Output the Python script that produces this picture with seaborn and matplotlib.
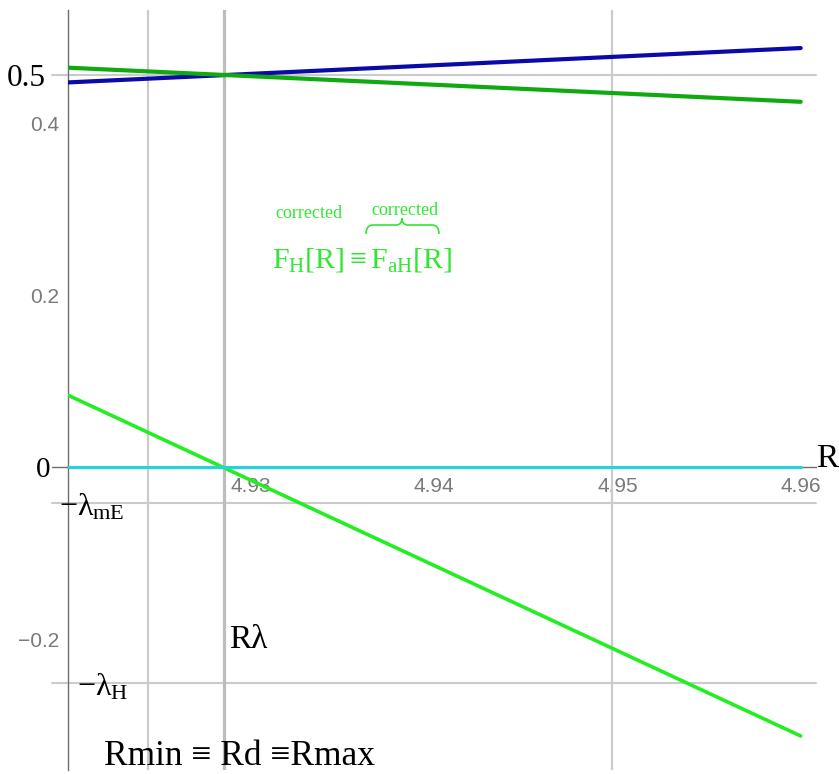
import matplotlib
matplotlib.use("Agg")
import matplotlib.pyplot as plt
import seaborn as sns
import pandas as pd
from matplotlib.path import Path
from matplotlib.patches import PathPatch
from matplotlib.ticker import MultipleLocator

# ---- data -------------------------------------------------------------
R = [4.92, 4.96]
F_blue = [0.4475, 0.4875]          # blue curve
F_green = [0.4647, 0.4250]         # dark green curve
F_corrected = [0.0841, -0.3124]    # corrected F_H[R]
zero_line = [0.0, 0.0]

x_ticks = [4.93, 4.94, 4.95, 4.96]
x_tick_labels = ["4.93", "4.94", "4.95", "4.96"]
y_ticks = [-0.2, 0.0, 0.2, 0.4]
y_tick_labels = ["\u22120.2", "", "0.2", "0.4"]

level_values = [0.456, -0.0415, -0.251]     # 0.5-level, -lambda_mE, -lambda_H
radius_marks = [4.9244, 4.9497]
radius_d = 4.92855                          # Rmin = Rd = Rmax

# ---- style ------------------------------------------------------------
sns.set_style("white")
plt.rcParams["font.family"] = ["Liberation Sans", "DejaVu Sans"]
plt.rcParams["mathtext.fontset"] = "custom"
plt.rcParams["mathtext.rm"] = "Liberation Serif"
plt.rcParams["mathtext.it"] = "Liberation Serif"
plt.rcParams["mathtext.bf"] = "Liberation Serif:bold"

W, H = 839, 774
fig = plt.figure(figsize=(W / 100, H / 100), dpi=100)
x_left, x_right, y_top, y_bot = 67.5, 816.0, 10.0, 770.0
ax = fig.add_axes([x_left / W, (H - y_bot) / H, (x_right - x_left) / W, (y_bot - y_top) / H])

px_x = 18330.0   # pixels per unit R
px_y = 860.0     # pixels per unit F
y0 = 467.3
ax.set_xlim(4.92, 4.92 + (x_right - x_left) / px_x)
ax.set_ylim(-(y_bot - y0) / px_y, (y0 - y_top) / px_y)


def fp(x, y):
    """figure fraction from pixel position (origin top-left)"""
    return x / W, 1 - y / H


# reference lines
grid_c = "#cbcbcb"
ext = -(x_left - 52) / (x_right - x_left)
for yv in level_values:
    ax.axhline(yv, xmin=ext, xmax=1, color=grid_c, lw=1.5, clip_on=False, zorder=1)
ax.axhline(0, xmin=ext, xmax=0, color="#6e6e6e", lw=1.0, clip_on=False, zorder=1)
for xv in radius_marks:
    ax.axvline(xv, color=grid_c, lw=1.6, zorder=1)
ax.axvline(radius_d, color="#bdbdbd", lw=2.3, zorder=1)

# curves
sns.lineplot(x=R, y=F_blue, color="#0a0aa8", lw=3.0, ax=ax, zorder=3)
sns.lineplot(x=R, y=F_green, color="#10aa10", lw=3.0, ax=ax, zorder=3)
sns.lineplot(x=R, y=F_corrected, color="#22ee22", lw=2.6, ax=ax, zorder=3)
sns.lineplot(x=R, y=zero_line, color="#22d4de", lw=2.2, ax=ax, zorder=4)

# axes
for s in ("top", "right"):
    ax.spines[s].set_visible(False)
ax.spines["bottom"].set_position(("data", 0))
for s in ("left", "bottom"):
    ax.spines[s].set_color("#6e6e6e")
    ax.spines[s].set_linewidth(1.0)
    ax.spines[s].set_zorder(2)

ax.set_xticks(x_ticks)
ax.set_xticklabels(x_tick_labels)
ax.set_yticks(y_ticks)
ax.set_yticklabels(y_tick_labels)
ax.xaxis.set_minor_locator(MultipleLocator(0.002))
ax.yaxis.set_minor_locator(MultipleLocator(0.05))
ax.tick_params(which="both", direction="in", color="#777777", width=0.8)
ax.tick_params(which="major", length=4.5)
ax.tick_params(which="minor", length=2.5)
ax.tick_params(axis="x", which="major", pad=7, labelsize=15, labelcolor="#7a7a7a")
ax.tick_params(axis="y", which="major", pad=6, labelsize=15, labelcolor="#7a7a7a")
ax.set_xlabel("")
ax.set_ylabel("")

# labels
serif = "Liberation Serif"
fig.text(*fp(46, 86), "0.5", ha="right", va="baseline", family=serif, fontsize=22.5, color="black")
fig.text(*fp(50, 477), "0", ha="right", va="baseline", family=serif, fontsize=21, color="black")
fig.text(*fp(59, 515), r"$-\lambda_{\mathrm{mE}}$", ha="left", va="baseline", fontsize=23, color="black")
fig.text(*fp(77, 695), r"$-\lambda_{\mathrm{H}}$", ha="left", va="baseline", fontsize=23, color="black")
fig.text(*fp(229, 648), "R\u03bb", ha="left", va="baseline", family=serif, fontsize=24, color="black")
fig.text(*fp(104, 765), "Rmin \u2261 Rd \u2261Rmax", ha="left", va="baseline", family=serif,
         fontsize=25.5, color="black")
fig.text(*fp(816, 467), "R", ha="left", va="baseline", family=serif, fontsize=24, color="black")

green_txt = "#33e633"
fig.text(*fp(272, 268), r"$\mathrm{F_H[R]\equiv F_{aH}[R]}$", ha="left", va="baseline",
         fontsize=21.5, color=green_txt)
fig.text(*fp(275, 218), "corrected", ha="left", va="baseline", family=serif, fontsize=13,
         color=green_txt)
fig.text(*fp(371, 215), "corrected", ha="left", va="baseline", family=serif, fontsize=13,
         color=green_txt)

# overbrace above F_aH[R]
pts = [(366, 234), (366, 225), (373, 225), (396, 225), (402, 225), (402, 218),
       (402, 225), (408, 225), (432, 225), (439, 225), (439, 234)]
codes = [Path.MOVETO, Path.CURVE3, Path.CURVE3, Path.LINETO, Path.CURVE3, Path.CURVE3,
         Path.CURVE3, Path.CURVE3, Path.LINETO, Path.CURVE3, Path.CURVE3]
brace = Path([fp(x, y) for x, y in pts], codes)
fig.add_artist(PathPatch(brace, transform=fig.transFigure, fill=False, edgecolor=green_txt, lw=1.2))

fig.savefig("out.png", dpi=100)
